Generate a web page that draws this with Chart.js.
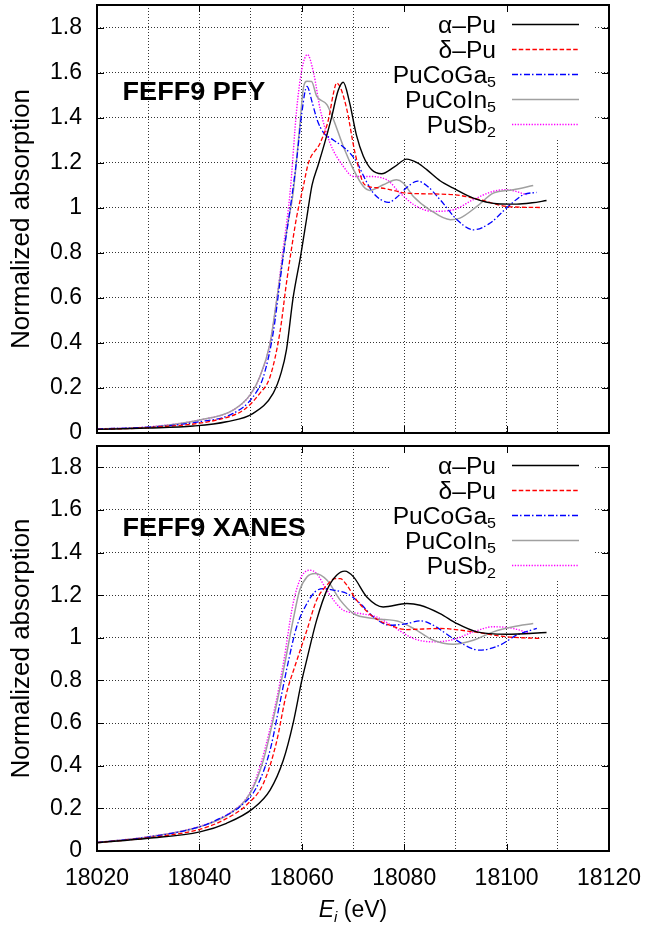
<!DOCTYPE html>
<html><head><meta charset="utf-8">
<script src="https://cdn.jsdelivr.net/npm/chart.js@4.4.1/dist/chart.umd.min.js"></script>
<style>
html,body{margin:0;padding:0;background:#fff;width:649px;height:929px;overflow:hidden;position:relative}
#c1{position:absolute;left:0;top:0}
#c2{position:absolute;left:0;top:440px}
</style></head><body>
<canvas id="c1" width="649" height="440"></canvas>
<canvas id="c2" width="649" height="489"></canvas>
<script>
// ---------- tick labels ----------
const xTickLabels = ['18020','18040','18060','18080','18100','18120'];
const yTickLabels = ['0','0.2','0.4','0.6','0.8','1','1.2','1.4','1.6','1.8'];

// ---------- series names ----------
const seriesNames = ['α–Pu','δ–Pu','PuCoGa','PuCoIn','PuSb'];
const seriesSubs  = ['','','5','5','2'];
const panelLabels = ['FEFF9 PFY','FEFF9 XANES'];

// ---------- top panel: FEFF9 PFY ----------
const pfyAlphaE = [18020,18030,18038.8,18045.3,18050.5,18054.4,18056,18057,18058.3,18059.8,18061,18062,18063.2,18064.5,18065.8,18067.1,18068.1,18069.3,18070.7,18072,18073.6,18075.6,18078,18080.5,18082.5,18084.4,18087,18089.6,18093.5,18098.1,18102,18105,18107.8];
const pfyAlphaV = [0.016,0.022,0.031,0.05,0.087,0.176,0.27,0.369,0.6,0.79,0.96,1.1,1.19,1.29,1.40,1.52,1.557,1.47,1.32,1.23,1.17,1.151,1.18,1.216,1.20,1.169,1.12,1.087,1.043,1.018,1.016,1.022,1.032];

const pfyDeltaE = [18020,18030,18043.4,18048.6,18051.8,18053.8,18055.7,18057,18057.8,18059,18060.3,18061.3,18063.6,18065.2,18066.2,18066.8,18067.6,18068.8,18070.4,18072.3,18075.3,18080.5,18089.6,18094.8,18100,18106.5];
const pfyDeltaV = [0.016,0.024,0.058,0.102,0.176,0.25,0.443,0.665,0.79,0.96,1.095,1.199,1.288,1.391,1.51,1.554,1.53,1.436,1.243,1.102,1.088,1.065,1.058,1.036,1.006,1.001];

const pfyGaE = [18020,18030,18040.1,18046.6,18050.5,18052.5,18054.4,18055.7,18056.4,18057.7,18059,18060,18061,18062,18063,18064.2,18066.2,18068.1,18069.5,18070.8,18072.3,18073.8,18075.5,18076.9,18078.5,18080.5,18082.6,18084.3,18087,18090.3,18093.5,18096.8,18100,18103.3,18105.9];
const pfyGaV = [0.018,0.026,0.05,0.087,0.161,0.25,0.443,0.665,0.79,0.991,1.213,1.42,1.539,1.47,1.39,1.335,1.30,1.27,1.24,1.20,1.13,1.07,1.035,1.024,1.045,1.09,1.118,1.10,1.036,0.947,0.902,0.932,0.999,1.058,1.068];

const pfyInE = [18020,18030,18040.1,18046.6,18049.9,18051.8,18053.8,18055.1,18056.3,18057.2,18058.3,18059.6,18060.3,18061,18061.9,18062.9,18064.9,18066.2,18068.1,18070.1,18072,18073.3,18075.9,18078.5,18079.8,18081.8,18085,18089,18090.9,18094.2,18097.4,18101.3,18105.2];
const pfyInV = [0.018,0.026,0.058,0.102,0.169,0.25,0.398,0.591,0.78,0.92,1.065,1.361,1.53,1.561,1.56,1.495,1.458,1.391,1.273,1.169,1.095,1.077,1.102,1.124,1.11,1.05,0.991,0.947,0.954,1.006,1.065,1.08,1.099];

const pfySbE = [18020,18030,18040.1,18046.6,18049.9,18051.8,18053.8,18055.1,18056.2,18057.7,18059,18060,18061.1,18062.3,18063.6,18065.5,18068.1,18070.1,18072.7,18076.6,18079.2,18082.4,18085.7,18089.6,18093.5,18097.4,18100,18103.9];
const pfySbV = [0.018,0.027,0.058,0.102,0.169,0.25,0.398,0.591,0.79,1.065,1.436,1.613,1.68,1.599,1.436,1.288,1.184,1.139,1.139,1.124,1.065,1.006,0.984,0.991,1.036,1.073,1.08,1.058];

// ---------- bottom panel: FEFF9 XANES ----------
const xanAlphaE = [18020,18030,18040.1,18045.3,18050.5,18053.8,18056.4,18058.3,18060,18061,18062.9,18064.9,18066.8,18068.4,18070.1,18072.7,18075.9,18080.5,18083.1,18087,18090.3,18094.2,18100,18107.8];
const xanAlphaV = [0.039,0.06,0.09,0.13,0.2,0.286,0.427,0.599,0.80,0.9,1.083,1.224,1.294,1.313,1.286,1.192,1.145,1.161,1.153,1.114,1.067,1.028,1.017,1.025];

const xanDeltaE = [18020,18030,18040.1,18044.7,18049.2,18052.5,18055,18057,18058.7,18061,18062.9,18064.9,18066.5,18067.5,18068.8,18070.7,18074,18077.2,18080.5,18087,18093.5,18100,18106.5];
const xanDeltaV = [0.039,0.062,0.102,0.145,0.216,0.317,0.505,0.739,0.87,1.036,1.177,1.247,1.278,1.278,1.247,1.177,1.098,1.059,1.039,1.044,1.028,1.005,0.997];

const xanGaE = [18020,18030,18040.1,18044,18047.9,18051.2,18053.8,18055.7,18057.2,18059,18061,18062.6,18064.2,18066.2,18068.8,18071.4,18074,18077.2,18080.5,18083.1,18085.7,18089.6,18094.8,18098.7,18102,18105.9];
const xanGaV = [0.04,0.065,0.114,0.153,0.208,0.301,0.473,0.692,0.87,1.052,1.161,1.216,1.231,1.224,1.208,1.161,1.098,1.059,1.067,1.08,1.059,0.997,0.942,0.966,1.013,1.044];

const xanInE = [18020,18030,18040.1,18046,18049.9,18052.5,18055.1,18056.6,18058.3,18059.6,18061,18062.6,18064.9,18067.5,18070.1,18074,18079.2,18082.4,18085.7,18089.6,18093.5,18097.4,18101.3,18105.2];
const xanInV = [0.04,0.066,0.114,0.177,0.27,0.427,0.692,0.87,1.083,1.224,1.286,1.302,1.271,1.177,1.114,1.091,1.075,1.036,0.989,0.97,0.989,1.028,1.052,1.067];

const xanSbE = [18020,18030,18040.1,18046,18049.9,18052.2,18054.9,18056.4,18058.3,18059.6,18060.6,18061.6,18062.9,18064.5,18066.2,18068.1,18071.4,18074.6,18077.9,18081.8,18085.7,18089.6,18093.5,18097.4,18101.3,18104.6];
const xanSbV = [0.04,0.067,0.116,0.18,0.275,0.427,0.692,0.88,1.161,1.271,1.309,1.317,1.302,1.239,1.177,1.13,1.114,1.098,1.052,0.997,0.981,0.992,1.028,1.052,1.044,1.02];

// ---------- styles ----------
const seriesColors = ['#000000','#ff0000','#0000ff','#a0a0a0','#ff00ff'];
const seriesDashes = [[],[4.5,2.3],[6,2,1.5,2.5],[],[1.3,1.5]];
const seriesWidths = [1.4,1.3,1.3,1.5,1.4];

const FONT = '"Liberation Sans", Arial, Helvetica, sans-serif';
Chart.defaults.font.family = FONT;
Chart.defaults.color = '#000';

function pts(xs, ys){ return xs.map((x,i)=>({x:x, y:ys[i]})); }

function makeDatasets(groups){
  return groups.map((g,i)=>({
    label: seriesNames[i] + seriesSubs[i],
    data: pts(g[0], g[1]),
    borderColor: seriesColors[i],
    borderDash: seriesDashes[i],
    borderWidth: seriesWidths[i],
    pointRadius: 0,
    fill: false,
    cubicInterpolationMode: 'monotone'
  }));
}

const STRETCH = 1.07;

const decorPlugin = {
  id: 'decor',
  beforeDatasetsDraw(chart){
    const {ctx, chartArea:a} = chart;
    ctx.save();
    ctx.fillStyle = '#fff';
    ctx.fillRect(390, a.top + 1, 594 - 390, 132);
    ctx.restore();
  },
  afterDraw(chart, args, opts){
    const {ctx, chartArea:a, scales:{x, y}} = chart;
    ctx.save();
    ctx.strokeStyle = '#000'; ctx.lineWidth = 1; ctx.setLineDash([]);
    ctx.beginPath();
    for (let k = 0; k < xTickLabels.length; k++){
      const px = Math.round(x.getPixelForValue(Number(xTickLabels[k]))) + 0.5;
      ctx.moveTo(px, a.bottom); ctx.lineTo(px, a.bottom - 7);
      ctx.moveTo(px, a.top); ctx.lineTo(px, a.top + 7);
    }
    for (let k = 0; k < yTickLabels.length; k++){
      const py = Math.round(y.getPixelForValue(Number(yTickLabels[k]))) + 0.5;
      ctx.moveTo(a.left, py); ctx.lineTo(a.left + 7, py);
      ctx.moveTo(a.right, py); ctx.lineTo(a.right - 7, py);
    }
    ctx.stroke();
    ctx.lineWidth = 2;
    ctx.strokeRect(a.left, a.top, a.right - a.left, a.bottom - a.top);

    const textRight = 496, lx0 = 512, lx1 = 579;
    for (let i = 0; i < seriesNames.length; i++){
      const ly = a.top + 19 + i * 25;
      ctx.fillStyle = '#000';
      ctx.textBaseline = 'alphabetic';
      ctx.textAlign = 'left';
      ctx.font = '23px ' + FONT;
      const mw = ctx.measureText(seriesNames[i]).width * STRETCH;
      let sw = 0;
      if (seriesSubs[i]) { ctx.font = '15px ' + FONT; sw = ctx.measureText(seriesSubs[i]).width * STRETCH; }
      const sx = textRight - sw - mw;
      ctx.save();
      ctx.translate(sx, ly);
      ctx.scale(STRETCH, 1);
      ctx.font = '23px ' + FONT;
      ctx.fillText(seriesNames[i], 0, 8.5);
      if (seriesSubs[i]) { ctx.font = '15px ' + FONT; ctx.fillText(seriesSubs[i], mw / STRETCH, 12.5); }
      ctx.restore();
      ctx.strokeStyle = seriesColors[i];
      ctx.lineWidth = seriesWidths[i];
      ctx.setLineDash(seriesDashes[i]);
      ctx.beginPath();
      ctx.moveTo(lx0, Math.round(ly) + 0.5); ctx.lineTo(lx1, Math.round(ly) + 0.5);
      ctx.stroke();
    }
    ctx.setLineDash([]);

    ctx.fillStyle = '#000';
    ctx.font = 'bold 26px ' + FONT;
    ctx.textAlign = 'left';
    ctx.save();
    ctx.translate(x.getPixelForValue(18025), y.getPixelForValue(1.48));
    ctx.scale(1.04, 1);
    ctx.fillText(opts.label, 0, 0);
    ctx.restore();

    if (opts.xTitle){
      const cx = (a.left + a.right) / 2;
      const by = a.bottom + 66;
      ctx.font = 'italic 23px ' + FONT;
      const wE = ctx.measureText('E').width;
      ctx.font = 'italic 15px ' + FONT;
      const wi = ctx.measureText('i').width;
      ctx.font = '23px ' + FONT;
      const wr = ctx.measureText(' (eV)').width;
      let sx = cx - (wE + wi + wr) / 2;
      ctx.font = 'italic 23px ' + FONT; ctx.fillText('E', sx, by); sx += wE;
      ctx.font = 'italic 15px ' + FONT; ctx.fillText('i', sx, by + 5); sx += wi;
      ctx.font = '23px ' + FONT; ctx.fillText(' (eV)', sx, by);
    }
    ctx.restore();
  }
};

function makeOptions(isBottom){
  return {
    responsive: false,
    animation: false,
    devicePixelRatio: 1,
    events: [],
    layout: { padding: { left: 0, right: 40, top: isBottom ? 6 : 5, bottom: 0 } },
    plugins: {
      legend: { display: false },
      tooltip: { enabled: false },
      decor: { label: isBottom ? panelLabels[1] : panelLabels[0], xTitle: isBottom }
    },
    scales: {
      x: {
        type: 'linear', min: 18020, max: 18120,
        ticks: {
          display: isBottom, stepSize: 10, autoSkip: false, maxRotation: 0, minRotation: 0,
          padding: 14, font: { size: 23 }, color: '#000',
          callback: (v, i) => (i % 2 === 0 ? xTickLabels[i / 2] : '')
        },
        grid: { color: 'rgba(0,0,0,0.8)', lineWidth: 1, drawTicks: false },
        border: { display: false, dash: [1, 2] },
        afterFit: s => { s.height = isBottom ? 78 : 7; s.paddingLeft = 0; s.paddingRight = 0; s.paddingTop = 0; s.paddingBottom = 0; }
      },
      y: {
        type: 'linear', min: 0, max: 1.9,
        ticks: {
          stepSize: 0.2, includeBounds: false, padding: 15, font: { size: 23 }, color: '#000',
          callback: (v, i) => yTickLabels[i]
        },
        grid: { color: 'rgba(0,0,0,0.8)', lineWidth: 1, drawTicks: false },
        border: { display: false, dash: [1, 2] },
        title: { display: true, text: 'Normalized absorption', font: { size: 26 }, color: '#000', padding: { top: 6, bottom: 0 } },
        afterFit: s => { s.width = 97; s.paddingTop = 0; s.paddingBottom = 0; s.paddingLeft = 0; s.paddingRight = 0; }
      }
    }
  };
}

new Chart(document.getElementById('c1'), {
  type: 'line',
  data: { datasets: makeDatasets([[pfyAlphaE,pfyAlphaV],[pfyDeltaE,pfyDeltaV],[pfyGaE,pfyGaV],[pfyInE,pfyInV],[pfySbE,pfySbV]]) },
  options: makeOptions(false),
  plugins: [decorPlugin]
});

new Chart(document.getElementById('c2'), {
  type: 'line',
  data: { datasets: makeDatasets([[xanAlphaE,xanAlphaV],[xanDeltaE,xanDeltaV],[xanGaE,xanGaV],[xanInE,xanInV],[xanSbE,xanSbV]]) },
  options: makeOptions(true),
  plugins: [decorPlugin]
});
</script>
</body></html>
